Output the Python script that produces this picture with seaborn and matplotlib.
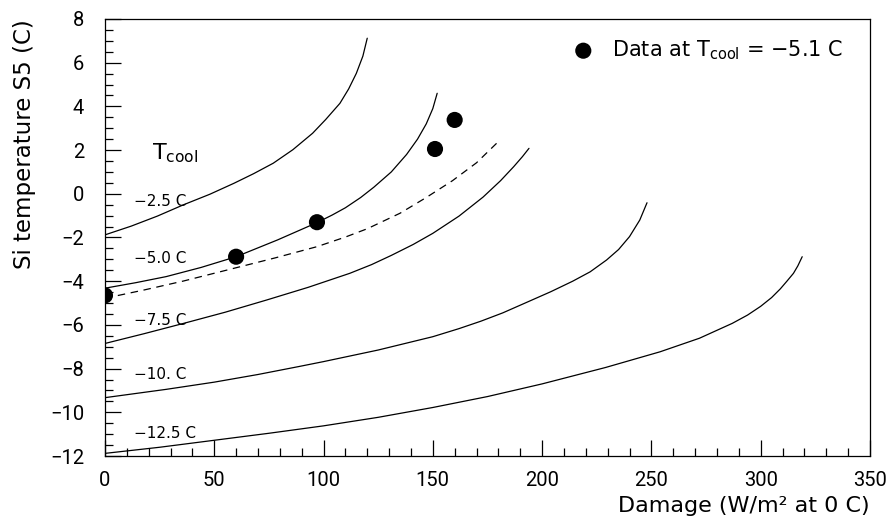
import pandas as pd
import matplotlib
matplotlib.use("Agg")
import matplotlib.pyplot as plt
import seaborn as sns
from matplotlib.ticker import MultipleLocator

# Model curves: Si temperature vs damage for several coolant temperatures
damage_m25 = [0, 12, 24, 36, 48, 59, 68, 77, 86, 95, 101, 107.5, 111.5, 115, 118, 120]
temp_m25 = [-1.88, -1.48, -1.02, -0.5, -0.02, 0.48, 0.92, 1.40, 2.02, 2.77, 3.4, 4.14, 4.8, 5.51, 6.3, 7.12]

damage_m50 = [0, 14, 28, 44, 60, 79, 97, 104, 110, 117, 123, 131, 138, 143, 147, 150, 152]
temp_m50 = [-4.32, -4.07, -3.79, -3.37, -2.88, -2.11, -1.32, -0.97, -0.64, -0.17, 0.3, 1.0, 1.8,
            2.5, 3.2, 3.9, 4.6]

damage_m51 = [0, 18, 36, 59, 78, 97, 110, 120, 135, 147, 159, 170, 180]
temp_m51 = [-4.78, -4.4, -3.99, -3.41, -2.93, -2.42, -1.98, -1.6, -0.89, -0.17, 0.6, 1.42, 2.39]

damage_m75 = [0, 18, 36, 55, 74, 93, 112, 122, 131, 141, 150, 162, 173, 181, 187, 191, 194]
temp_m75 = [-6.85, -6.4, -5.93, -5.42, -4.86, -4.28, -3.64, -3.24, -2.82, -2.32, -1.81, -1.02,
            -0.15, 0.6, 1.24, 1.7, 2.08]

damage_m100 = [0, 14, 28, 50, 70, 89, 100, 125, 150, 162, 172, 182, 192, 204, 214, 222, 229.5,
               235, 240, 244.7, 248]
temp_m100 = [-9.33, -9.14, -8.95, -8.62, -8.27, -7.9, -7.68, -7.15, -6.54, -6.17, -5.83, -5.45,
             -5.01, -4.48, -4.0, -3.57, -3.03, -2.55, -1.96, -1.2, -0.41]

damage_m125 = [0, 25, 50, 75, 100, 125, 150, 175, 200, 229, 254, 272, 287, 294, 300, 305, 309,
               312, 315, 317, 319]
temp_m125 = [-11.88, -11.6, -11.28, -10.96, -10.62, -10.23, -9.78, -9.28, -8.70, -7.95, -7.23,
             -6.61, -5.93, -5.55, -5.15, -4.75, -4.35, -4.0, -3.64, -3.3, -2.88]

# Measured points at T_cool = -5.1 C
data_damage = [0, 60, 97, 151, 160]
data_temp = [-4.65, -2.88, -1.30, 2.05, 3.38]

# Curve labels (text, y position)
curve_labels = ["\u22122.5 C", "\u22125.0 C", "\u22127.5 C", "\u221210. C", "\u221212.5 C"]
curve_label_y = [-0.33, -2.96, -5.78, -8.25, -10.99]

sns.set_style("ticks")
plt.rcParams["font.family"] = ["Roboto", "DejaVu Sans"]
plt.rcParams["axes.unicode_minus"] = True
for key in ["text.color", "axes.labelcolor", "xtick.color", "ytick.color", "axes.edgecolor"]:
    plt.rcParams[key] = "black"
wide = "DejaVu Sans"

fig = plt.figure(figsize=(8.94, 5.23), dpi=100)
ax = fig.add_axes([0.1174, 0.1281, 0.8557, 0.8356])

solid = [(damage_m25, temp_m25), (damage_m50, temp_m50), (damage_m75, temp_m75),
         (damage_m100, temp_m100), (damage_m125, temp_m125)]
for xs, ys in solid:
    df = pd.DataFrame({"damage": xs, "temp": ys})
    sns.lineplot(data=df, x="damage", y="temp", ax=ax, color="black",
                 linewidth=0.9, estimator=None, solid_joinstyle="round")

df_dash = pd.DataFrame({"damage": damage_m51, "temp": temp_m51})
sns.lineplot(data=df_dash, x="damage", y="temp", ax=ax, color="black",
             linewidth=0.9, estimator=None, linestyle=(0, (6, 4.5)))

df_data = pd.DataFrame({"damage": data_damage, "temp": data_temp})
sns.scatterplot(data=df_data, x="damage", y="temp", ax=ax, color="black",
                s=135, edgecolor="none", zorder=5,
                label="Data at T$_{\\mathregular{cool}}$ = \u22125.1 C")

for txt, yy in zip(curve_labels, curve_label_y):
    ax.text(13.5, yy, txt, fontsize=11, va="center", ha="left", family=wide)
ax.text(21.5, 1.85, "T$_{\\mathregular{cool}}$", fontsize=16, va="center", ha="left", family=wide)

ax.set_xlim(0, 350)
ax.set_ylim(-12, 8)
ax.xaxis.set_major_locator(MultipleLocator(50))
ax.xaxis.set_minor_locator(MultipleLocator(10))
ax.yaxis.set_major_locator(MultipleLocator(2))
ax.yaxis.set_minor_locator(MultipleLocator(0.5))
ax.tick_params(which="both", direction="in", top=False, right=False,
               labelsize=14.5, width=0.9, color="black")
ax.tick_params(which="major", length=11.5)
ax.tick_params(which="minor", length=5.5)
ax.tick_params(axis="x", pad=10.5)
ax.tick_params(axis="y", pad=15)
for sp in ax.spines.values():
    sp.set_linewidth(0.9)
    sp.set_color("black")

ax.set_xlabel("Damage (W/m\u00b2 at 0 C)", fontsize=16, loc="right", family=wide)
ax.set_ylabel("Si temperature S5 (C)", fontsize=16.5, loc="top", family=wide)
ax.xaxis.set_label_coords(1.0, -0.091)
ax.yaxis.set_label_coords(-0.09, 1.0)

ax.legend(loc="upper right", bbox_to_anchor=(0.99, 0.999), frameon=False,
          prop={"family": wide, "size": 15}, handletextpad=0.4, markerscale=1.0)

fig.savefig("out.png", dpi=100)
